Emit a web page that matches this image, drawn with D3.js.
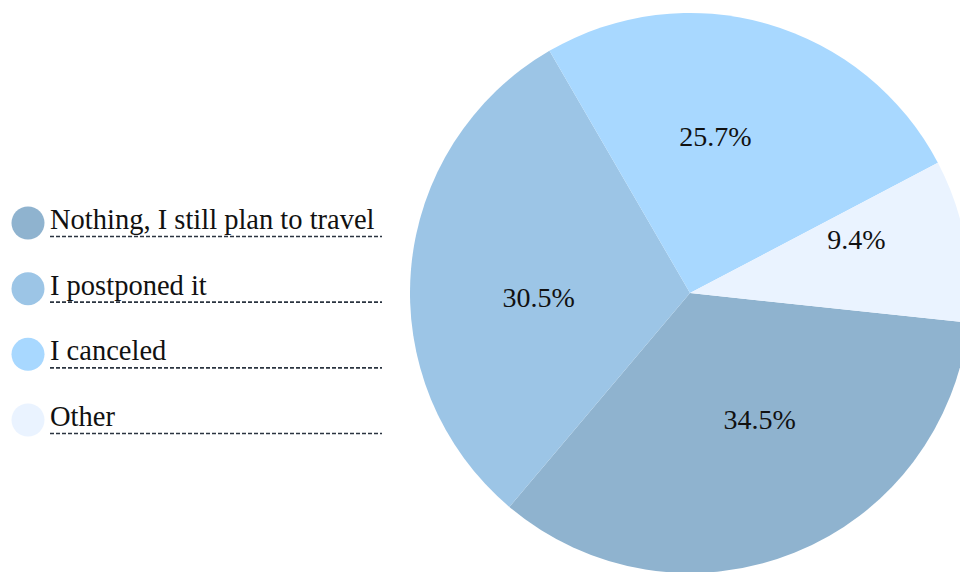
<!DOCTYPE html>
<html>
<head>
<meta charset="utf-8">
<script src="https://cdn.jsdelivr.net/npm/d3@7"></script>
<style>
  html, body { margin: 0; padding: 0; background: #ffffff; overflow: hidden; }
  svg { display: block; }
  text { font-family: "Liberation Serif", "Times New Roman", serif; }
</style>
</head>
<body>
<svg id="chart" width="960" height="572"></svg>
<script>
// Survey answers and their shares (%)
const categories = ["Nothing, I still plan to travel", "I postponed it", "I canceled", "Other"];
const shares = [34.5, 30.5, 25.7, 9.4];
const shareLabels = ["34.5%", "30.5%", "25.7%", "9.4%"];
const palette = ["#8fb3cf", "#9cc5e6", "#a8d8ff", "#eaf3ff"];

const cx = 690, cy = 293, radius = 280;
const startDeg = 96.1;          // where the first slice begins, clockwise from 12 o'clock
const labelTurn = -6.9;         // labels sit slightly counter-clockwise of the slice middle
const labelScale = 0.95;        // fraction of the sector's area-centroid distance

const svg = d3.select("#chart");

const color = d3.scaleOrdinal().domain(categories).range(palette);

const pie = d3.pie()
  .sort(null)
  .value(d => d.value)
  .startAngle(startDeg * Math.PI / 180)
  .endAngle(startDeg * Math.PI / 180 + 2 * Math.PI);

const rows = categories.map((c, i) => ({ name: c, value: shares[i], label: shareLabels[i] }));
const arcs = pie(rows);

const arc = d3.arc().innerRadius(0).outerRadius(radius);

const g = svg.append("g").attr("transform", `translate(${cx},${cy})`);

g.selectAll("path.slice")
  .data(arcs)
  .join("path")
  .attr("class", "slice")
  .attr("d", arc)
  .attr("fill", d => color(d.data.name));

// Percentage labels near each slice's area centroid
g.selectAll("text.pct")
  .data(arcs)
  .join("text")
  .attr("class", "pct")
  .attr("transform", d => {
    const theta = d.endAngle - d.startAngle;
    const dist = labelScale * (4 * radius * Math.sin(theta / 2)) / (3 * theta);
    const mid = (d.startAngle + d.endAngle) / 2 + labelTurn * Math.PI / 180;
    return `translate(${dist * Math.sin(mid)},${-dist * Math.cos(mid)})`;
  })
  .attr("text-anchor", "middle")
  .attr("dominant-baseline", "central")
  .attr("font-size", 28)
  .attr("fill", "#111")
  .text(d => d.data.label);

// Legend
const legendY = d3.scalePoint().domain(categories).range([223, 420]);

const legend = svg.append("g").attr("class", "legend");
const item = legend.selectAll("g.item")
  .data(categories)
  .join("g")
  .attr("class", "item")
  .attr("transform", d => `translate(0,${legendY(d)})`);

item.append("circle")
  .attr("cx", 28)
  .attr("cy", 0)
  .attr("r", 16.5)
  .attr("fill", d => color(d));

item.append("text")
  .attr("x", 50)
  .attr("y", 6)
  .attr("font-size", 28.5)
  .attr("fill", "#111")
  .text(d => d);

item.append("line")
  .attr("x1", 50)
  .attr("x2", 382)
  .attr("y1", 13.5)
  .attr("y2", 13.5)
  .attr("stroke", "#2b3440")
  .attr("stroke-width", 1.6)
  .attr("stroke-dasharray", "4,2");
</script>
</body>
</html>
